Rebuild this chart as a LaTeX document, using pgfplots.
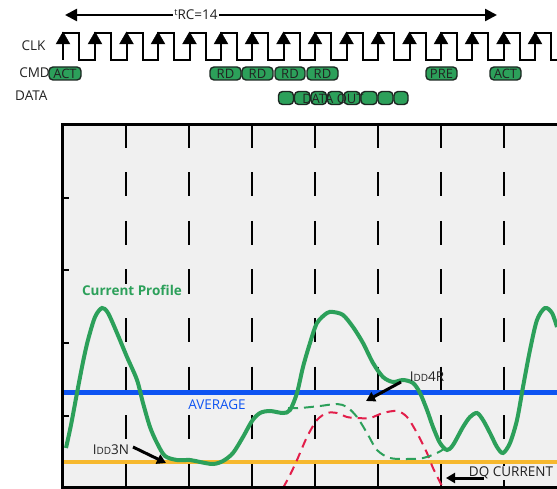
\documentclass[border=0pt]{standalone}
\usepackage{pgfplots}
\pgfplotsset{compat=1.18}
\usepackage{fontspec}
\setmainfont{Open Sans}
\usetikzlibrary{arrows.meta}
\definecolor{cgreen}{RGB}{44,160,90}
\definecolor{cblue}{RGB}{14,84,242}
\definecolor{corange}{RGB}{246,184,46}
\definecolor{cred}{RGB}{226,30,74}
\definecolor{bg}{RGB}{240,240,240}
\definecolor{pillborder}{RGB}{28,40,34}
\definecolor{txt}{RGB}{34,34,34}
\newcommand{\pill}[4]{\draw[fill=cgreen, draw=pillborder, line width=1.4pt, rounded corners=4pt] (axis cs:#1,#3) rectangle (axis cs:#2,#4);}
\newcommand{\smallcap}[1]{{\fontsize{10}{10}\selectfont #1}}
\begin{document}
\begin{tikzpicture}[font=\fontsize{13.5}{15}\selectfont, text=txt]
\begin{axis}[
  scale only axis, width=557pt, height=489pt,
  xmin=0, xmax=557, ymin=0, ymax=489, y dir=reverse,
  hide axis, clip=false, anchor=south west, at={(0,0)},
]
% plot background
\fill[bg] (axis cs:62,124) rectangle (axis cs:557,489);
% vertical dashed clock lines
\addplot[black, line width=2pt, dash pattern=on 24pt off 24.5pt] coordinates {(125.5,124) (125.5,489)};
\addplot[black, line width=2pt, dash pattern=on 24pt off 24.5pt] coordinates {(189,124) (189,489)};
\addplot[black, line width=2pt, dash pattern=on 24pt off 24.5pt] coordinates {(251.5,124) (251.5,489)};
\addplot[black, line width=2pt, dash pattern=on 24pt off 24.5pt] coordinates {(314.5,124) (314.5,489)};
\addplot[black, line width=2pt, dash pattern=on 24pt off 24.5pt] coordinates {(377.5,124) (377.5,489)};
\addplot[black, line width=2pt, dash pattern=on 24pt off 24.5pt] coordinates {(441,124) (441,489)};
\addplot[black, line width=2pt, dash pattern=on 24pt off 24.5pt] coordinates {(503.5,124) (503.5,489)};
% average and IDD3N levels
\addplot[cblue, line width=5pt] coordinates {(62,392) (557,392)};
\addplot[corange, line width=4pt] coordinates {(62,462) (557,462)};
% DQ current (red dashed)
\addplot[cred, line width=2pt, dash pattern=on 9pt off 6pt, smooth, tension=0.5] coordinates {
(283,488) (290,475) (297,460) (307,437) (317,420) (327,413) (337,413) (347,417) (357,418) (370,418) (383,413) (397,411) (407,417) (417,433) (427,453) (433,468) (443,488)};
% IDD4R (green dashed)
\addplot[cgreen, line width=2pt, dash pattern=on 10pt off 6pt, smooth, tension=0.5] coordinates {
(288,408) (300,408) (320,406) (337,404) (347,407) (357,417) (367,433) (377,450) (390,458) (407,459) (423,458) (437,453) (447,447)};
% current profile
\addplot[cgreen, line width=4pt, smooth, tension=0.5] coordinates {
(66,448) (71,425) (77,393) (83,362) (88,340) (95,317) (102,308) (108,313) (117,333) (127,357) (137,380) (143,403) (150,427) (157,443) (165,456) (177,460) (190,460) (200,462) (213,464) (223,461) (233,453) (243,437) (252,421) (260,413) (270,411) (283,413) (290,410) (297,393) (303,367) (310,343) (317,323) (327,313) (333,312) (343,315) (353,327) (363,343) (373,363) (383,377) (393,382) (403,380) (413,383) (420,393) (427,410) (433,427) (440,443) (447,450) (453,445) (463,427) (470,417) (477,413) (483,420) (490,433) (497,447) (503,453) (510,443) (517,420) (523,387) (530,350) (537,320) (545,308) (552,313) (557,327)};
% labels in plot
\node[text=cgreen, font=\fontsize{13.5}{15}\selectfont\bfseries, fill=bg, inner sep=1pt] at (axis cs:132,290) {Current Profile};
\node[text=cblue] at (axis cs:217,405) {AVERAGE};
\node at (axis cs:111,450) {I\smallcap{DD}3N};
\draw[line width=3pt, -{Triangle[length=9pt,width=10pt]}] (axis cs:133,447) -- (axis cs:166,463);
\node at (axis cs:427,377) {I\smallcap{DD}4R};
\draw[line width=3pt, -{Triangle[length=9pt,width=10pt]}] (axis cs:401,382) -- (axis cs:366,401);
\node[fill=bg, inner sep=1pt] at (axis cs:511,473) {DQ CURRENT};
\draw[line width=3pt, -{Triangle[length=9pt,width=10pt]}] (axis cs:484,478) -- (axis cs:446,478);
% frame and ticks
\draw[black, line width=3pt] (axis cs:557,124.5) -- (axis cs:62.5,124.5) -- (axis cs:62.5,487.5) -- (axis cs:557,487.5);
\draw[line width=2pt] (axis cs:62,198) -- (axis cs:69,198);
\draw[line width=2pt] (axis cs:62,270) -- (axis cs:69,270);
\draw[line width=2pt] (axis cs:62,343) -- (axis cs:69,343);
\draw[line width=2pt] (axis cs:62,416) -- (axis cs:69,416);
% tRC arrow
\draw[line width=2.5pt, {Triangle[length=12pt,width=12pt]}-{Triangle[length=12pt,width=12pt]}] (axis cs:65,15) -- (axis cs:497,15);
\node[fill=white, inner xsep=1pt, inner ysep=0pt] at (axis cs:196,15) {\raisebox{4pt}{\fontsize{9}{9}\selectfont t}RC=14};
% clock waveform
\addplot[black, line width=2pt] coordinates {
(63,60)(63,33)(79,33)(79,60)(95,60)(95,33)(111,33)(111,60)(126.5,60)(126.5,33)(142.5,33)(142.5,60)(158,60)(158,33)(174,33)(174,60)(189.5,60)(189.5,33)(205.5,33)(205.5,60)(221,60)(221,33)(237,33)(237,60)(252,60)(252,33)(268,33)(268,60)(283.5,60)(283.5,33)(299.5,33)(299.5,60)(315,60)(315,33)(331,33)(331,60)(346.5,60)(346.5,33)(362.5,33)(362.5,60)(378,60)(378,33)(394,33)(394,60)(409.5,60)(409.5,33)(425.5,33)(425.5,60)(441,60)(441,33)(457,33)(457,60)(472,60)(472,33)(488,33)(488,60)(503.5,60)(503.5,33)(519.5,33)(519.5,60)(535,60)(535,33)(551,33)(551,60)(557,60)};
\addplot[only marks, mark=triangle*, mark size=8pt, black] coordinates {
(63,40)(95,40)(126.5,40)(158,40)(189.5,40)(221,40)(252,40)(283.5,40)(315,40)(346.5,40)(378,40)(409.5,40)(441,40)(472,40)(503.5,40)(535,40)};
% row labels
\node[anchor=east] at (axis cs:49,46) {CLK};
\node[anchor=east, inner xsep=0pt] at (axis cs:50,73) {CMD};
\node[anchor=east] at (axis cs:51,96) {DATA};
% command pills
\pill{49}{81}{67}{80}
\pill{210}{241}{67}{80}
\pill{242}{273}{67}{80}
\pill{275}{305}{67}{80}
\pill{307}{338}{67}{80}
\pill{426}{457}{67}{80}
\pill{490}{521}{67}{80}
\node[font=\fontsize{13}{13}\selectfont] at (axis cs:65,73.5) {ACT};
\node[font=\fontsize{13}{13}\selectfont] at (axis cs:225.5,73.5) {RD};
\node[font=\fontsize{13}{13}\selectfont] at (axis cs:257.5,73.5) {RD};
\node[font=\fontsize{13}{13}\selectfont] at (axis cs:290,73.5) {RD};
\node[font=\fontsize{13}{13}\selectfont] at (axis cs:322.5,73.5) {RD};
\node[font=\fontsize{13}{13}\selectfont] at (axis cs:441.5,73.5) {PRE};
\node[font=\fontsize{13}{13}\selectfont] at (axis cs:505.5,73.5) {ACT};
% data pills
\pill{278.5}{293.5}{91.5}{104.5}
\pill{294.5}{310}{91.5}{104.5}
\pill{311}{326.5}{91.5}{104.5}
\pill{327.5}{343}{91.5}{104.5}
\pill{344}{360}{91.5}{104.5}
\pill{361}{377}{91.5}{104.5}
\pill{378}{393}{91.5}{104.5}
\pill{394}{408}{91.5}{104.5}
\node[font=\fontsize{13}{13}\selectfont] at (axis cs:333,98.5) {DATA OUT};
\end{axis}
\pgfresetboundingbox
\path (0,0) rectangle (557pt,489pt);
\end{tikzpicture}
\end{document}
